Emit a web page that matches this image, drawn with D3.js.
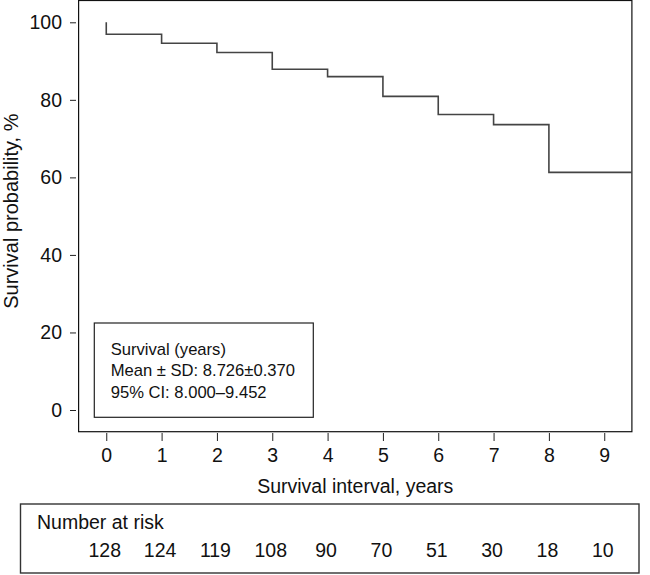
<!DOCTYPE html>
<html>
<head>
<meta charset="utf-8">
<script src="https://cdn.jsdelivr.net/npm/d3@7"></script>
<style>
  html, body { margin: 0; padding: 0; background: #fff; }
  svg { display: block; font-family: "Liberation Sans", Arial, Helvetica, sans-serif; }
</style>
</head>
<body>
<svg id="chart" width="650" height="575"></svg>
<script>
// ---- data ----
const stepTimes = [0, 1, 2, 3, 4, 5, 6, 7, 8];
const stepSurvival = [96.9, 94.6, 92.2, 87.9, 86.0, 80.9, 76.2, 73.6, 61.3];
const startSurvival = 100;
const endTime = 9.5;
const xTicks = [0, 1, 2, 3, 4, 5, 6, 7, 8, 9];
const yTicks = [0, 20, 40, 60, 80, 100];
const atRisk = [128, 124, 119, 108, 90, 70, 51, 30, 18, 10];
const legendLines = ["Survival (years)", "Mean \u00B1 SD: 8.726\u00B10.370", "95% CI: 8.000\u20139.452"];

const svg = d3.select("#chart");

const x = d3.scaleLinear().domain([-0.5, 9.5]).range([78.6, 631.9]);
const y = d3.scaleLinear().domain([0, 100]).range([410, 22.3]);

// plot frame
svg.append("rect")
  .attr("x", 78.6).attr("y", 0.5)
  .attr("width", 631.9 - 78.6).attr("height", 431.7 - 0.5)
  .attr("fill", "none").attr("stroke", "#111").attr("stroke-width", 1.2);

// y axis (detached)
const yAxis = d3.axisLeft(y).tickValues(yTicks).tickSize(6).tickPadding(8).tickFormat(d3.format("d"));
const gy = svg.append("g").attr("transform", "translate(76,0)").call(yAxis);
gy.select(".domain").remove();
gy.selectAll(".tick line").attr("stroke", "#222").attr("stroke-width", 1);
gy.selectAll(".tick text").attr("font-size", 19.5).attr("fill", "#111")
  .attr("font-family", "Liberation Sans, Arial, sans-serif");

// x axis (detached)
const xAxis = d3.axisBottom(x).tickValues(xTicks).tickSize(8).tickPadding(7).tickFormat(d3.format("d"));
const gx = svg.append("g").attr("transform", "translate(0,433)").call(xAxis);
gx.select(".domain").remove();
gx.selectAll(".tick line").attr("stroke", "#222").attr("stroke-width", 1);
gx.selectAll(".tick text").attr("font-size", 19.5).attr("fill", "#111")
  .attr("font-family", "Liberation Sans, Arial, sans-serif");

// axis titles
svg.append("text")
  .attr("x", (x(-0.5) + x(9.5)) / 2).attr("y", 493)
  .attr("text-anchor", "middle").attr("font-size", 19.5).attr("fill", "#111")
  .text("Survival interval, years");

svg.append("text")
  .attr("transform", `translate(18,${(y(0) + y(100)) / 2 - 5}) rotate(-90)`)
  .attr("text-anchor", "middle").attr("font-size", 20).attr("fill", "#111")
  .text("Survival probability, %");

// KM step curve (vertical drop at each event time)
const pathPts = [[0, startSurvival]];
for (let i = 0; i < stepTimes.length; i++) {
  const prev = i === 0 ? startSurvival : stepSurvival[i - 1];
  pathPts.push([stepTimes[i], prev]);
  pathPts.push([stepTimes[i], stepSurvival[i]]);
}
pathPts.push([endTime, stepSurvival[stepSurvival.length - 1]]);
const line = d3.line().x(d => x(d[0])).y(d => y(d[1]));
svg.append("path")
  .attr("d", line(pathPts))
  .attr("fill", "none").attr("stroke", "#444").attr("stroke-width", 1.6);

// legend box
svg.append("rect")
  .attr("x", 94.3).attr("y", 323).attr("width", 313.3 - 94.3).attr("height", 417.3 - 323)
  .attr("fill", "#fff").attr("stroke", "#222").attr("stroke-width", 1.2);
svg.append("g").selectAll("text").data(legendLines).join("text")
  .attr("x", 110.7).attr("y", (d, i) => 355 + i * 21.3)
  .attr("font-size", 16.6).attr("fill", "#111")
  .text(d => d);

// number at risk table
svg.append("rect")
  .attr("x", 20.5).attr("y", 504).attr("width", 639 - 20.5).attr("height", 573 - 504)
  .attr("fill", "none").attr("stroke", "#333").attr("stroke-width", 1.4);
svg.append("text")
  .attr("x", 37).attr("y", 529).attr("font-size", 19.5).attr("fill", "#111")
  .text("Number at risk");
svg.append("g").selectAll("text").data(atRisk).join("text")
  .attr("x", (d, i) => x(xTicks[i]) - 1.5)
  .attr("y", 557)
  .attr("text-anchor", "middle").attr("font-size", 19.5).attr("fill", "#111")
  .text(d => d);
</script>
</body>
</html>
